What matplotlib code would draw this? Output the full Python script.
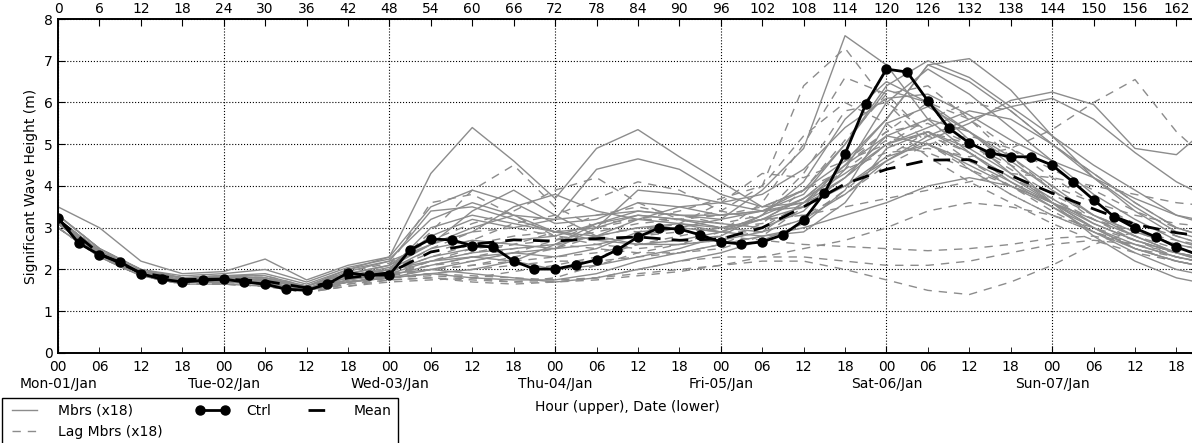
#!/usr/bin/env python3
"""
Ensemble significant wave height plume: members, lagged members, control and mean.
"""

import numpy as np
import matplotlib
matplotlib.use("Agg")
import matplotlib.pyplot as plt
import matplotlib.ticker as ticker


# ==========================================
# 1. Data
# ==========================================

# 6-hourly output for the members and the mean, 3-hourly for the control run
HOURS_6H = np.arange(0, 169, 6)
HOURS_3H = np.arange(0, 166, 3)

CTRL = [3.23, 2.63, 2.35, 2.18, 1.90, 1.77, 1.70, 1.74, 1.77, 1.70, 1.65, 1.53,
        1.50, 1.65, 1.92, 1.86, 1.87, 2.47, 2.73, 2.71, 2.57, 2.54, 2.20, 2.01,
        2.01, 2.11, 2.23, 2.47, 2.78, 2.99, 2.97, 2.83, 2.66, 2.61, 2.66, 2.83,
        3.18, 3.83, 4.77, 5.96, 6.80, 6.73, 6.04, 5.39, 5.03, 4.79, 4.70, 4.70,
        4.50, 4.10, 3.67, 3.26, 2.99, 2.78, 2.54, 2.36]

MEAN = [3.20, 2.38, 1.92, 1.76, 1.77, 1.72, 1.56, 1.80, 1.92, 2.42, 2.60, 2.71,
        2.68, 2.74, 2.78, 2.70, 2.73, 3.00, 3.50, 4.05, 4.40, 4.62, 4.63, 4.25,
        3.83, 3.45, 3.08, 2.88, 2.75]

MEMBERS = [
    [3.3, 2.5, 2.0, 1.8, 1.85, 1.8, 1.6, 2.0, 2.3, 4.3, 5.4, 4.6, 3.7, 4.9, 5.35, 4.7, 4.1, 3.5, 3.6, 4.2, 5.0, 5.3, 4.9, 4.3, 3.7, 3.1, 2.7, 2.4, 2.2],
    [3.2, 2.45, 1.95, 1.8, 1.8, 1.75, 1.6, 1.9, 2.1, 2.8, 3.2, 3.0, 3.2, 4.4, 4.65, 4.4, 3.8, 3.5, 3.9, 5.0, 6.3, 6.0, 5.3, 4.6, 3.9, 3.3, 2.9, 2.6, 2.4],
    [3.1, 2.4, 1.9, 1.75, 1.75, 1.75, 1.55, 1.8, 2.0, 2.5, 2.7, 2.6, 2.5, 2.6, 2.8, 3.0, 3.2, 3.9, 4.9, 7.6, 6.9, 5.6, 4.8, 4.2, 3.6, 3.1, 2.7, 2.4, 2.2],
    [3.2, 2.4, 1.95, 1.8, 1.85, 1.85, 1.6, 1.9, 2.1, 2.6, 3.0, 3.3, 3.2, 3.3, 3.4, 3.3, 3.3, 3.4, 3.6, 4.0, 4.6, 5.1, 5.5, 6.05, 6.25, 5.95, 4.9, 4.75, 5.6],
    [3.5, 3.0, 2.2, 1.9, 1.95, 2.25, 1.75, 2.1, 2.3, 3.5, 3.9, 3.6, 3.1, 3.2, 3.6, 3.5, 3.3, 3.4, 3.8, 5.0, 6.4, 7.0, 6.6, 5.9, 5.2, 4.5, 3.9, 3.3, 3.0],
    [3.2, 2.35, 1.9, 1.7, 1.75, 1.7, 1.5, 1.75, 1.95, 2.3, 2.5, 2.7, 2.8, 3.1, 3.3, 3.2, 3.1, 3.0, 3.4, 4.4, 6.0, 6.8, 6.2, 5.4, 4.6, 3.8, 3.2, 2.7, 2.4],
    [3.1, 2.35, 1.9, 1.7, 1.7, 1.65, 1.5, 1.7, 1.8, 2.0, 2.2, 2.4, 2.3, 2.5, 2.9, 3.0, 2.9, 3.3, 4.1, 5.6, 6.5, 6.0, 5.1, 4.3, 3.6, 3.0, 2.5, 2.2, 2.0],
    [3.0, 2.3, 1.85, 1.65, 1.65, 1.6, 1.5, 1.7, 1.8, 1.9, 2.0, 2.2, 2.6, 3.1, 3.4, 3.3, 3.2, 3.4, 3.9, 4.6, 5.6, 6.9, 7.05, 6.3, 5.2, 4.2, 3.4, 2.8, 2.5],
    [3.2, 2.4, 1.95, 1.75, 1.8, 1.75, 1.55, 1.8, 2.0, 3.0, 3.3, 3.1, 2.9, 3.0, 3.3, 3.2, 3.0, 3.2, 3.5, 4.2, 5.2, 5.6, 5.3, 4.7, 4.0, 3.3, 2.8, 2.4, 2.1],
    [3.3, 2.5, 2.0, 1.8, 1.8, 1.8, 1.6, 1.95, 2.2, 3.4, 3.5, 3.2, 2.9, 2.7, 2.6, 2.7, 2.9, 3.2, 3.7, 4.5, 5.6, 6.9, 6.5, 5.8, 5.0, 4.3, 3.6, 3.0, 2.7],
    [3.1, 2.35, 1.9, 1.7, 1.7, 1.7, 1.5, 1.7, 1.85, 2.1, 2.3, 2.2, 2.0, 2.1, 2.3, 2.5, 2.8, 3.3, 3.7, 4.3, 5.0, 5.4, 5.8, 5.6, 5.0, 4.2, 3.5, 2.9, 2.6],
    [3.2, 2.4, 1.9, 1.75, 1.75, 1.75, 1.55, 1.85, 2.0, 2.2, 2.4, 2.5, 2.6, 2.8, 3.0, 3.1, 3.0, 2.9, 3.2, 3.8, 4.6, 5.2, 5.6, 5.9, 6.1, 5.6, 4.8, 4.1, 3.6],
    [3.0, 2.3, 1.85, 1.7, 1.7, 1.65, 1.5, 1.7, 1.8, 1.9, 1.8, 1.75, 1.75, 1.9, 2.2, 2.4, 2.6, 2.8, 3.0, 3.3, 3.6, 4.0, 4.2, 4.0, 3.6, 3.2, 2.8, 2.4, 2.1],
    [3.2, 2.45, 1.95, 1.8, 1.85, 1.9, 1.65, 2.0, 2.2, 2.6, 2.9, 3.5, 3.8, 3.4, 3.2, 3.1, 2.9, 2.8, 2.9, 3.6, 4.9, 5.3, 4.8, 4.1, 3.5, 2.9, 2.4, 2.0, 1.8],
    [3.1, 2.4, 1.9, 1.7, 1.7, 1.7, 1.5, 1.75, 1.9, 2.0, 1.9, 1.8, 1.7, 1.8, 2.0, 2.2, 2.4, 2.7, 3.1, 3.9, 5.5, 5.9, 5.3, 4.5, 3.6, 2.8, 2.2, 1.8, 1.6],
    [3.2, 2.4, 1.9, 1.75, 1.8, 1.8, 1.55, 1.85, 2.05, 2.6, 3.4, 3.9, 3.3, 2.8, 2.6, 2.6, 2.7, 2.9, 3.6, 4.5, 5.2, 5.0, 4.5, 4.0, 3.5, 3.0, 2.6, 2.3, 2.1],
    [3.1, 2.35, 1.9, 1.7, 1.75, 1.7, 1.5, 1.75, 1.9, 2.2, 2.3, 2.4, 2.5, 3.0, 3.9, 3.8, 3.6, 3.4, 3.5, 4.0, 4.7, 5.0, 4.6, 4.1, 3.6, 3.0, 2.5, 2.2, 2.0],
    [3.3, 2.5, 2.0, 1.85, 1.9, 2.0, 1.7, 2.05, 2.25, 3.2, 3.6, 3.3, 2.9, 2.8, 3.2, 3.5, 3.6, 3.8, 4.4, 5.4, 6.1, 6.2, 5.7, 5.1, 4.6, 4.2, 3.7, 3.3, 3.1],
]

LAG_MEMBERS = [
    [3.2, 2.4, 1.9, 1.75, 1.75, 1.7, 1.55, 1.8, 1.95, 2.3, 2.6, 2.8, 2.9, 3.0, 3.2, 3.4, 3.7, 4.0, 6.4, 7.3, 6.0, 5.0, 4.4, 3.8, 3.3, 2.9, 2.5, 2.3, 2.1],
    [3.1, 2.35, 1.9, 1.7, 1.7, 1.65, 1.5, 1.7, 1.85, 2.2, 2.5, 2.6, 2.7, 2.9, 3.1, 3.2, 3.3, 3.5, 3.9, 4.4, 4.8, 4.9, 4.7, 4.9, 5.35, 6.0, 6.55, 5.3, 4.4],
    [3.0, 2.3, 1.85, 1.65, 1.65, 1.6, 1.45, 1.65, 1.8, 1.9, 1.85, 1.8, 1.75, 1.8, 1.9, 2.0, 2.1, 2.2, 2.2, 2.0, 1.75, 1.5, 1.4, 1.7, 2.1, 2.6, 2.9, 2.7, 2.5],
    [3.1, 2.35, 1.9, 1.7, 1.7, 1.7, 1.5, 1.7, 1.85, 2.0, 2.1, 2.2, 2.3, 2.4, 2.6, 2.7, 2.8, 2.7, 2.6, 2.55, 2.5, 2.45, 2.5, 2.6, 2.75, 2.8, 2.6, 2.3, 2.1],
    [3.2, 2.4, 1.95, 1.75, 1.8, 1.75, 1.55, 1.85, 2.0, 2.9, 3.9, 4.5, 3.5, 3.0, 2.9, 3.1, 3.6, 4.3, 4.2, 4.6, 5.3, 6.0, 5.6, 4.9, 4.2, 3.6, 3.1, 2.8, 2.5],
    [3.2, 2.45, 1.95, 1.8, 1.8, 1.8, 1.6, 1.9, 2.1, 3.6, 3.8, 3.3, 2.8, 2.7, 2.8, 2.9, 3.0, 3.2, 3.7, 4.5, 5.3, 5.5, 5.0, 4.4, 3.8, 3.3, 2.9, 2.6, 2.4],
    [3.1, 2.35, 1.85, 1.7, 1.7, 1.65, 1.5, 1.65, 1.75, 1.8, 1.75, 1.7, 1.8, 2.1, 2.4, 2.6, 2.7, 3.1, 3.9, 5.1, 6.2, 6.4, 5.6, 4.7, 3.9, 3.2, 2.7, 2.3, 2.1],
    [3.2, 2.4, 1.9, 1.75, 1.75, 1.75, 1.55, 1.8, 1.9, 2.1, 2.3, 2.5, 2.6, 2.5, 2.4, 2.4, 2.5, 2.8, 3.5, 4.6, 5.0, 4.8, 4.4, 4.0, 3.6, 3.2, 2.9, 2.6, 2.4],
    [3.0, 2.3, 1.85, 1.65, 1.65, 1.6, 1.45, 1.6, 1.7, 1.75, 1.8, 1.95, 2.1, 2.3, 2.6, 2.8, 3.0, 3.2, 3.3, 3.5, 3.7, 3.9, 4.1, 4.3, 4.2, 4.0, 3.8, 3.6, 3.5],
    [3.3, 2.5, 2.0, 1.8, 1.85, 1.85, 1.6, 1.95, 2.15, 2.7, 3.1, 3.4, 3.9, 4.2, 3.6, 3.2, 3.0, 3.1, 3.5, 4.2, 5.0, 5.6, 6.0, 5.8, 5.0, 4.3, 3.6, 3.0, 2.7],
    [3.1, 2.4, 1.9, 1.7, 1.7, 1.7, 1.5, 1.7, 1.8, 1.9, 2.0, 2.1, 2.2, 2.2, 2.3, 2.4, 2.6, 3.0, 3.6, 4.4, 5.1, 5.2, 4.8, 4.2, 3.7, 3.2, 2.8, 2.5, 2.3],
    [3.2, 2.4, 1.9, 1.75, 1.8, 1.75, 1.55, 1.85, 2.0, 2.4, 2.7, 3.1, 3.3, 3.7, 4.1, 3.9, 3.4, 3.2, 3.3, 3.8, 4.5, 5.0, 5.2, 4.9, 4.4, 3.9, 3.4, 3.0, 2.7],
    [3.1, 2.35, 1.9, 1.7, 1.7, 1.65, 1.5, 1.7, 1.8, 1.85, 1.8, 1.7, 1.7, 1.75, 1.85, 1.95, 2.1, 2.3, 2.5, 2.7, 3.0, 3.4, 3.6, 3.5, 3.3, 3.0, 2.7, 2.4, 2.2],
    [3.2, 2.45, 1.95, 1.75, 1.75, 1.75, 1.55, 1.8, 1.95, 2.5, 2.9, 3.0, 2.8, 2.6, 2.5, 2.6, 2.9, 3.6, 5.0, 6.6, 6.2, 5.2, 4.4, 3.8, 3.3, 2.9, 2.5, 2.2, 2.0],
    [3.0, 2.3, 1.85, 1.65, 1.65, 1.6, 1.45, 1.6, 1.75, 1.8, 1.7, 1.65, 1.7, 1.8, 2.0, 2.2, 2.3, 2.3, 2.3, 2.2, 2.1, 2.1, 2.2, 2.4, 2.6, 2.7, 2.6, 2.4, 2.2],
    [3.2, 2.4, 1.9, 1.75, 1.8, 1.75, 1.55, 1.8, 1.95, 2.2, 2.4, 2.6, 2.9, 3.3, 3.5, 3.3, 3.1, 3.3, 4.3, 5.8, 6.0, 5.3, 4.6, 4.0, 3.4, 2.9, 2.6, 2.3, 2.1],
    [3.1, 2.35, 1.9, 1.7, 1.7, 1.7, 1.5, 1.7, 1.85, 2.0, 2.1, 2.3, 2.5, 2.8, 3.0, 3.0, 2.9, 2.9, 3.2, 3.9, 4.7, 5.3, 5.0, 4.5, 4.0, 3.6, 3.3, 3.1, 3.0],
    [3.2, 2.4, 1.95, 1.75, 1.75, 1.7, 1.55, 1.75, 1.9, 2.1, 2.2, 2.4, 2.7, 3.1, 3.2, 3.2, 3.4, 4.0, 5.2, 6.0, 5.5, 4.7, 4.1, 3.6, 3.1, 2.7, 2.4, 2.2, 2.0],
]

DAY_LABELS = ["Mon-01/Jan", "Tue-02/Jan", "Wed-03/Jan", "Thu-04/Jan",
              "Fri-05/Jan", "Sat-06/Jan", "Sun-07/Jan"]

N_MBRS = len(MEMBERS)
N_LAG = len(LAG_MEMBERS)


# ==========================================
# 2. Plot
# ==========================================

def main() -> None:
    plt.rcParams["font.family"] = "DejaVu Sans"
    plt.rcParams["font.size"] = 10

    fig = plt.figure(figsize=(11.92, 4.43), dpi=100)
    ax = fig.add_axes([0.0487, 0.2032, 0.9556, 0.7539])

    grey = "#8c8c8c"
    for i, vals in enumerate(MEMBERS):
        ax.plot(HOURS_6H, vals, color=grey, linewidth=1.0,
                label=f"Mbrs (x{N_MBRS})" if i == 0 else None)
    for i, vals in enumerate(LAG_MEMBERS):
        ax.plot(HOURS_6H, vals, color=grey, linewidth=1.0, dashes=(6, 5),
                label=f"Lag Mbrs (x{N_LAG})" if i == 0 else None)

    ax.plot(HOURS_3H, CTRL, color="black", linewidth=2, marker="o",
            markersize=6.5, label="Ctrl", zorder=5)
    ax.plot(HOURS_6H, MEAN, color="black", linewidth=2, dashes=(6, 4),
            label="Mean", zorder=4)

    ax.set_xlim(0, 165)
    ax.set_ylim(0, 8)
    ax.set_ylabel("Significant Wave Height (m)")

    # bottom axis: 6-hourly hour-of-day labels, day boundaries as major ticks
    day_ticks = np.arange(0, 145, 24)
    ax.xaxis.set_major_locator(ticker.FixedLocator(day_ticks))
    ax.xaxis.set_major_formatter(ticker.FixedFormatter(["00"] * len(day_ticks)))
    minor = [h for h in range(6, 166, 6) if h % 24]
    ax.xaxis.set_minor_locator(ticker.FixedLocator(minor))
    ax.xaxis.set_minor_formatter(ticker.FixedFormatter(
        [f"{h % 24:02d}" for h in minor]))
    ax.yaxis.set_major_locator(ticker.MultipleLocator(1))

    ax.tick_params(axis="both", which="both", direction="in",
                   top=False, right=True)
    ax.tick_params(axis="x", which="major", length=5, pad=5)
    ax.tick_params(axis="x", which="minor", length=4, pad=5)
    ax.tick_params(axis="y", length=5, pad=4)
    ax.grid(True, which="major", linestyle=":", color="black", linewidth=0.8)

    # date labels on a second line below the hours
    dates = ax.secondary_xaxis("bottom")
    dates.set_xticks(day_ticks, DAY_LABELS)
    dates.tick_params(axis="x", length=0, pad=17)
    dates.spines["bottom"].set_visible(False)
    dates.set_xlabel("Hour (upper), Date (lower)", labelpad=7)

    # top axis: forecast hour
    top = ax.twiny()
    top.set_xlim(ax.get_xlim())
    top.xaxis.set_major_locator(ticker.FixedLocator(np.arange(0, 166, 6)))
    top.tick_params(axis="x", direction="in", length=5, pad=2)

    for a in (ax, top):
        for s in a.spines.values():
            s.set_linewidth(1.2)

    leg = fig.legend(loc="upper left", bbox_to_anchor=(0.002, 0.1015),
                     ncol=3, numpoints=2, fancybox=False, framealpha=1,
                     edgecolor="black", handlelength=2.4, handletextpad=1.2,
                     columnspacing=2.4, borderaxespad=0)
    leg.get_frame().set_linewidth(1.0)

    fig.savefig("out.png", dpi=100)


if __name__ == "__main__":
    main()
